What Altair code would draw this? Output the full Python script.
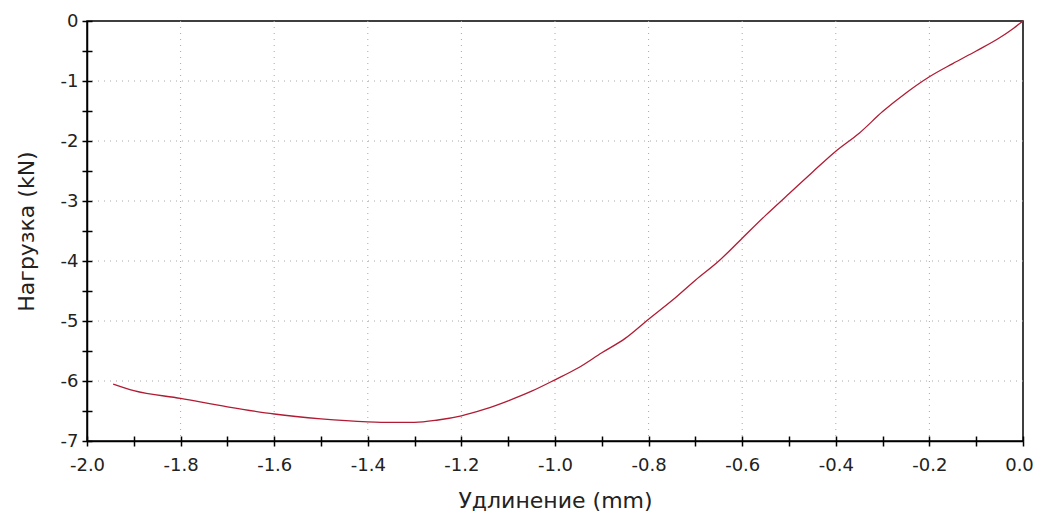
import altair as alt
import pandas as pd

# Curve (elongation mm, load kN)
elong = [-1.944, -1.9, -1.8, -1.7, -1.6, -1.5, -1.4, -1.35, -1.3, -1.25, -1.2, -1.15,
         -1.1, -1.05, -1.0, -0.95, -0.9, -0.85, -0.8, -0.75, -0.7, -0.65, -0.6, -0.55,
         -0.5, -0.45, -0.4, -0.35, -0.3, -0.25, -0.2, -0.15, -0.1, -0.05, -0.02, 0.0]
load = [-6.05, -6.16, -6.29, -6.43, -6.55, -6.63, -6.68, -6.69, -6.69, -6.65, -6.58, -6.47,
        -6.33, -6.17, -5.98, -5.78, -5.53, -5.29, -4.97, -4.66, -4.32, -4.0, -3.62, -3.24,
        -2.88, -2.52, -2.17, -1.87, -1.51, -1.2, -0.93, -0.71, -0.5, -0.28, -0.12, 0.0]

x_ticks = [round(-2.0 + 0.1 * i, 1) for i in range(21)]
y_ticks = [round(-7.0 + 0.5 * i, 1) for i in range(15)]
x_grid = [-1.8, -1.6, -1.4, -1.2, -1.0, -0.8, -0.6, -0.4, -0.2]
y_grid = [-1, -2, -3, -4, -5, -6]

df = pd.DataFrame({"x": elong, "y": load})
gx = pd.DataFrame({"gx": x_grid})
gy = pd.DataFrame({"gy": y_grid})

FONT = "DejaVu Sans"
xs = alt.Scale(domain=[-2.0, 0.0], nice=False, zero=False)
ys = alt.Scale(domain=[-7.0, 0.0], nice=False, zero=False)

grid_color = "#a8a8a8"
vgrid = alt.Chart(gx).mark_rule(color=grid_color, strokeDash=[1, 5], strokeWidth=1).encode(
    x=alt.X("gx:Q", scale=xs, axis=None)
)
hgrid = alt.Chart(gy).mark_rule(color=grid_color, strokeDash=[1, 5], strokeWidth=1).encode(
    y=alt.Y("gy:Q", scale=ys, axis=None)
)

line = alt.Chart(df).mark_line(color="#b01c34", strokeWidth=1.3, interpolate="monotone").encode(
    x=alt.X("x:Q", scale=xs, axis=alt.Axis(
        values=x_ticks, title="Удлинение (mm)", grid=False,
        labelExpr="abs(round(datum.value*10)) % 2 == 0 ? replace(format(datum.value, '.1f'), '\u2212', '-') : ''",
        labelOffset=alt.condition("datum.value == 0", alt.value(-4), alt.value(0)),
        tickSize=5, tickColor="black", tickWidth=1.5, domainColor="black", domainWidth=1.5,
        labelPadding=10, titlePadding=16, labelFont=FONT, titleFont=FONT,
        labelFontSize=18, titleFontSize=22, titleFontWeight="normal",
        labelColor="#222", titleColor="#222", labelFlush=False)),
    y=alt.Y("y:Q", scale=ys, axis=alt.Axis(
        values=y_ticks, title="Нагрузка (kN)", grid=False,
        labelExpr="datum.value % 1 == 0 ? '' + datum.value : ''",
        tickSize=5, tickColor="black", tickWidth=1.5, domainColor="black", domainWidth=1.5,
        labelPadding=4, titlePadding=22, labelFont=FONT, titleFont=FONT,
        labelFontSize=18, titleFontSize=22, titleFontWeight="normal",
        labelColor="#222", titleColor="#222", labelFlush=False))
)

# inner half of the crossing ticks
inner = alt.Chart(df).mark_line(opacity=0).encode(
    x=alt.X("x:Q", scale=xs, axis=alt.Axis(
        orient="bottom", values=x_ticks, labels=False, domain=False, grid=False, title=None,
        offset=-5, tickSize=5, tickColor="black", tickWidth=1.5)),
    y=alt.Y("y:Q", scale=ys, axis=alt.Axis(
        orient="left", values=y_ticks, labels=False, domain=False, grid=False, title=None,
        offset=-5, tickSize=5, tickColor="black", tickWidth=1.5))
)

chart = alt.layer(vgrid, hgrid, line, inner).resolve_axis(x="independent", y="independent").properties(
    width=936, height=420,
    padding={"left": 79, "top": 13, "right": 12, "bottom": 76},
    autosize=alt.AutoSizeParams(type="none"),
    background="white",
).configure_view(stroke="black", strokeWidth=1.5)

chart.save("out.html", embed_options={"renderer": "svg", "actions": False})
